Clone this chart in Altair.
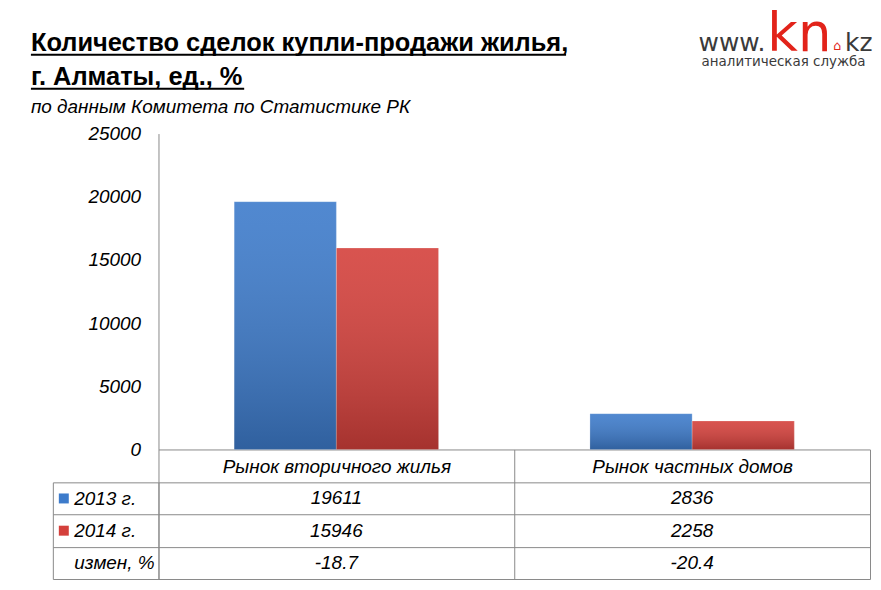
import altair as alt
import pandas as pd

# ---- data ----
categories = ["Рынок вторичного жилья", "Рынок частных домов"]
years = ["2013 г.", "2014 г."]
values_2013 = [19611, 2836]
values_2014 = [15946, 2258]
change_pct = ["-18.7", "-20.4"]
row_labels = ["2013 г.", "2014 г.", "измен, %"]
y_ticks = [0, 5000, 10000, 15000, 20000, 25000]

title_lines = ["Количество сделок купли-продажи жилья,", "г. Алматы, ед., %"]
subtitle = "по данным Комитета по Статистике РК"

# ---- styles ----
FONT = "Liberation Sans"
LOGO_FONT = "DejaVu Sans"
LINE = "#8a8a8a"
BLUE = "#3d7bcb"
RED = "#d4403b"
TXT = "#000000"
LOGO_GRAY = "#3a3a3a"
LOGO_RED = "#e2231a"
PLOT_W = 714
BAR_H = 317          # plot area of the bars
HEADER_H = 33        # header row of the data table
TABLE_H = 97         # three data rows
LEFT_COL = 106       # width of the row-label column
FS = 19

bars_df = pd.DataFrame({
    "category": categories * 2,
    "year": [years[0]] * len(categories) + [years[1]] * len(categories),
    "value": values_2013 + values_2014,
})
table_df = pd.DataFrame({
    "category": categories * 3,
    "row": [row_labels[0]] * 2 + [row_labels[1]] * 2 + [row_labels[2]] * 2,
    "text": [str(v) for v in values_2013] + [str(v) for v in values_2014] + change_pct,
})
swatch_df = pd.DataFrame({"row": years})
one = pd.DataFrame({"k": [0]})

x_shared = alt.X(
    "category:N", sort=categories,
    scale=alt.Scale(domain=categories, paddingInner=0, paddingOuter=0),
    axis=alt.Axis(title=None, tickBand="extent", tickSize=HEADER_H + TABLE_H,
                  tickColor=LINE, domainColor=LINE, labelFont=FONT,
                  labelFontSize=FS, labelFontStyle="italic", labelColor=TXT,
                  labelPadding=17 - (HEADER_H + TABLE_H), labelBaseline="middle",
                  labelAngle=0, labelLimit=400),
)
xoff = alt.XOffset("year:N", sort=years,
                   scale=alt.Scale(domain=years, paddingOuter=0.741, paddingInner=0))
y_scale = alt.Scale(domain=[0, 25000], nice=False, zero=True)
y_bars = alt.Y(
    "value:Q", scale=y_scale,
    axis=alt.Axis(values=y_ticks, title=None, grid=False, ticks=False,
                  domainColor=LINE, labelFont=FONT, labelFontSize=FS,
                  labelFontStyle="italic", labelColor=TXT, labelPadding=18,
                  format="d"),
)

bars = alt.Chart(bars_df).mark_bar(strokeWidth=1, stroke="#ffffff", strokeOpacity=0.25).encode(
    x=x_shared, xOffset=xoff, y=y_bars,
    color=alt.Color("year:N", scale=alt.Scale(domain=years, range=[BLUE, RED]), legend=None),
)
shade = alt.Chart(bars_df).mark_bar(
    color=alt.Gradient(
        gradient="linear", x1=0, y1=0, x2=0, y2=1,
        stops=[alt.GradientStop(offset=0, color="rgba(255,255,255,0.10)"),
               alt.GradientStop(offset=1, color="rgba(0,0,0,0.22)")],
    )
).encode(x=x_shared, xOffset=xoff, y=alt.Y("value:Q", scale=y_scale, axis=None))

row_scale = alt.Scale(domain=row_labels, paddingInner=0, paddingOuter=0,
                      range=[BAR_H + HEADER_H, BAR_H + HEADER_H + TABLE_H])

cells = alt.Chart(table_df).mark_text(
    font=FONT, fontSize=FS, fontStyle="italic", color=TXT
).encode(
    x=x_shared,
    y=alt.Y("row:N", sort=row_labels, scale=row_scale,
            axis=alt.Axis(title=None, orient="left", grid=True, gridColor=LINE,
                          tickBand="extent", ticks=True, tickSize=LEFT_COL,
                          tickColor=LINE, domain=True, domainColor=LINE,
                          labelAlign="left", labelBaseline="middle",
                          labelPadding=-21, labelFont=FONT, labelFontSize=FS,
                          labelFontStyle="italic", labelColor=TXT)),
    text="text:N",
)

swatches = alt.Chart(swatch_df).mark_point(
    shape="square", filled=True, size=100, opacity=1
).encode(
    x=alt.value(-95),
    y=alt.Y("row:N", sort=row_labels, scale=row_scale,
            axis=alt.Axis(title=None, orient="left", offset=LEFT_COL, domain=True,
                          domainColor=LINE, labels=False, ticks=False, grid=False)),
    color=alt.Color("row:N", scale=alt.Scale(domain=years, range=[BLUE, RED]), legend=None),
)

def txt(text, x, y, size, weight="normal", style="normal", color=TXT, font=FONT):
    return alt.Chart(one).mark_text(
        align="left", baseline="alphabetic", font=font, fontSize=size,
        fontWeight=weight, fontStyle=style, color=color,
    ).encode(x=alt.value(x), y=alt.value(y), text=alt.value(text))

def uline(x1, x2, y):
    return alt.Chart(one).mark_rule(color=TXT, strokeWidth=2).encode(
        x=alt.value(x1), x2=alt.value(x2), y=alt.value(y))

deco = [
    txt(title_lines[0], -128, -83, 25.5, weight="bold"),
    uline(-128, 409, -79),
    txt(title_lines[1], -128, -49, 25.5, weight="bold"),
    uline(-128, 86, -45),
    txt(subtitle, -128, -21, 19, style="italic"),
    txt("www.", 542, -83, 25, color=LOGO_GRAY, font=LOGO_FONT),
    txt("kn", 611, -83, 53, color=LOGO_RED, font=LOGO_FONT),
    txt("⌂", 677, -84, 13, color=LOGO_RED, font=LOGO_FONT),
    txt("kz", 689, -83, 25, color=LOGO_GRAY, font=LOGO_FONT),
    txt("аналитическая служба", 545, -68, 13.5, color=LOGO_GRAY, font=LOGO_FONT),
]

chart = alt.layer(bars, shade, cells, swatches, *deco).resolve_scale(
    y="independent"
).resolve_axis(
    y="independent"
).properties(
    width=PLOT_W, height=BAR_H,
    padding={"left": 22, "top": 0, "right": 0, "bottom": 0},
    background="white",
).configure_view(stroke=None)

chart.save("out.html", embed_options={"renderer": "svg", "actions": False})
